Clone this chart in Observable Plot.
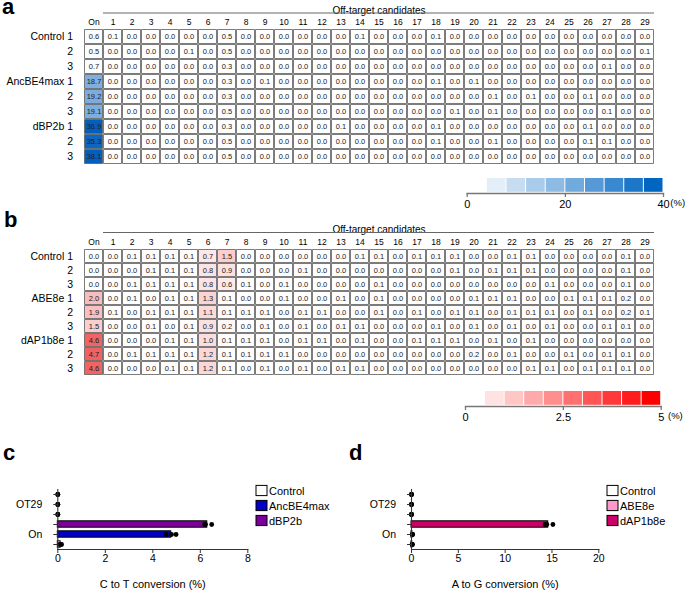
<!DOCTYPE html>
<html><head><meta charset="utf-8">
<script src="https://cdn.jsdelivr.net/npm/d3@7"></script>
<script src="https://cdn.jsdelivr.net/npm/@observablehq/plot@0.6"></script>
<style>
body{margin:0;background:#fff;font-family:"Liberation Sans",Arial,sans-serif;}
#root{position:relative;width:685px;height:596px;overflow:hidden;background:#fff;}
#root > *{position:absolute;}
.plab{font-weight:bold;font-size:22px;line-height:1;color:#000;}
</style></head><body><div id="root"></div>
<script>
// ---------- DATA ----------
const columns = ["On","1","2","3","4","5","6","7","8","9","10","11","12","13","14","15","16","17","18","19","20","21","22","23","24","25","26","27","28","29"];
const offTargetTitle = "Off-target candidates";

// panel a (C to T, %)
const aRowLabels = ["Control 1","2","3","AncBE4max 1","2","3","dBP2b 1","2","3"];
const aControl1   = [0.6,0.1,0.0,0.0,0.0,0.0,0.0,0.5,0.0,0.0,0.0,0.0,0.0,0.0,0.1,0.0,0.0,0.0,0.1,0.0,0.0,0.0,0.0,0.0,0.0,0.0,0.0,0.0,0.0,0.0];
const aControl2   = [0.5,0.0,0.0,0.0,0.0,0.1,0.0,0.5,0.0,0.0,0.0,0.0,0.0,0.0,0.0,0.0,0.0,0.0,0.0,0.0,0.0,0.0,0.0,0.0,0.0,0.0,0.0,0.0,0.0,0.1];
const aControl3   = [0.7,0.0,0.0,0.0,0.0,0.0,0.0,0.3,0.0,0.0,0.0,0.0,0.0,0.0,0.0,0.0,0.0,0.0,0.0,0.0,0.0,0.0,0.0,0.0,0.0,0.0,0.0,0.1,0.0,0.0];
const aAncBE4max1 = [18.7,0.0,0.0,0.0,0.0,0.0,0.0,0.3,0.0,0.1,0.0,0.0,0.0,0.0,0.0,0.0,0.0,0.0,0.1,0.0,0.1,0.0,0.0,0.0,0.0,0.0,0.0,0.0,0.0,0.0];
const aAncBE4max2 = [19.2,0.0,0.0,0.0,0.0,0.0,0.0,0.3,0.0,0.0,0.0,0.0,0.0,0.0,0.0,0.0,0.0,0.0,0.0,0.0,0.0,0.1,0.0,0.1,0.0,0.0,0.1,0.0,0.0,0.0];
const aAncBE4max3 = [19.1,0.0,0.0,0.0,0.0,0.0,0.0,0.5,0.0,0.0,0.0,0.0,0.0,0.0,0.0,0.0,0.0,0.0,0.0,0.1,0.0,0.1,0.0,0.0,0.0,0.0,0.0,0.1,0.0,0.0];
const aDBP2b1     = [36.9,0.0,0.0,0.0,0.0,0.0,0.0,0.3,0.0,0.0,0.0,0.0,0.0,0.1,0.0,0.0,0.0,0.0,0.1,0.0,0.0,0.0,0.0,0.0,0.0,0.0,0.1,0.0,0.0,0.0];
const aDBP2b2     = [35.3,0.0,0.0,0.0,0.0,0.0,0.0,0.5,0.0,0.0,0.0,0.0,0.0,0.0,0.0,0.0,0.0,0.0,0.1,0.0,0.0,0.1,0.0,0.0,0.0,0.0,0.1,0.1,0.0,0.0];
const aDBP2b3     = [38.1,0.0,0.0,0.0,0.0,0.0,0.0,0.5,0.0,0.0,0.0,0.0,0.0,0.0,0.0,0.0,0.0,0.0,0.0,0.0,0.0,0.0,0.0,0.0,0.0,0.0,0.0,0.0,0.0,0.0];

// panel b (A to G, %)
const bRowLabels = ["Control 1","2","3","ABE8e 1","2","3","dAP1b8e 1","2","3"];
const bControl1 = [0.0,0.0,0.1,0.1,0.1,0.1,0.7,1.5,0.0,0.0,0.0,0.0,0.0,0.0,0.1,0.1,0.0,0.1,0.1,0.1,0.0,0.0,0.1,0.1,0.0,0.0,0.0,0.0,0.1,0.0];
const bControl2 = [0.0,0.0,0.0,0.1,0.1,0.1,0.8,0.9,0.0,0.0,0.0,0.1,0.0,0.0,0.0,0.0,0.0,0.0,0.0,0.1,0.0,0.1,0.1,0.1,0.0,0.0,0.0,0.0,0.1,0.0];
const bControl3 = [0.0,0.0,0.1,0.1,0.1,0.1,0.8,0.6,0.1,0.0,0.1,0.0,0.0,0.0,0.0,0.1,0.0,0.0,0.0,0.0,0.0,0.0,0.0,0.0,0.1,0.0,0.0,0.0,0.1,0.0];
const bABE8e1   = [2.0,0.0,0.1,0.0,0.1,0.1,1.3,0.1,0.0,0.0,0.1,0.0,0.0,0.1,0.0,0.1,0.0,0.0,0.0,0.0,0.1,0.1,0.1,0.0,0.0,0.1,0.1,0.1,0.2,0.0];
const bABE8e2   = [1.9,0.1,0.0,0.1,0.1,0.1,1.1,0.1,0.1,0.1,0.0,0.1,0.1,0.0,0.0,0.1,0.0,0.1,0.0,0.1,0.1,0.0,0.1,0.1,0.1,0.0,0.1,0.0,0.2,0.1];
const bABE8e3   = [1.5,0.0,0.0,0.1,0.0,0.1,0.9,0.2,0.0,0.1,0.0,0.1,0.0,0.1,0.1,0.0,0.0,0.0,0.1,0.0,0.1,0.0,0.1,0.0,0.1,0.0,0.0,0.1,0.1,0.0];
const bDAP1b8e1 = [4.6,0.0,0.0,0.0,0.1,0.1,1.0,0.1,0.1,0.1,0.0,0.1,0.1,0.0,0.1,0.0,0.0,0.1,0.1,0.1,0.0,0.1,0.0,0.1,0.0,0.0,0.0,0.0,0.0,0.0];
const bDAP1b8e2 = [4.7,0.0,0.1,0.1,0.1,0.1,1.2,0.1,0.1,0.1,0.1,0.0,0.0,0.0,0.0,0.0,0.0,0.0,0.0,0.0,0.2,0.0,0.1,0.0,0.0,0.1,0.0,0.1,0.1,0.0];
const bDAP1b8e3 = [4.6,0.0,0.0,0.0,0.1,0.1,1.2,0.1,0.0,0.1,0.0,0.1,0.0,0.1,0.1,0.0,0.0,0.0,0.0,0.0,0.0,0.0,0.0,0.1,0.1,0.0,0.1,0.1,0.1,0.0];

// colour legends
const legendAEdges = [4,8,12,16,20,24,28,32,36,40];
const legendAFills = [4.4,8.9,13.3,17.8,22.2,26.7,31.1,35.6,40];
const legendATicks = [0,20,40];
const legendBEdges = [0.5,1,1.5,2,2.5,3,3.5,4,4.5,5];
const legendBFills = [0.56,1.11,1.67,2.22,2.78,3.33,3.89,4.44,5];
const legendBTicks = [0,2.5,5];

// panel c
const cGroups = ["Control","AncBE4max","dBP2b"];
const cColors = ["#ffffff","#0000c8","#7b0099"];
const cSites = ["OT29","On"];
const cOT29Control = [0,0,0];
const cOT29AncBE4max = [0,0,0];
const cOT29DBP2b = [0,0,0];
const cOnControl = [0.08,0.12,0.16];
const cOnAncBE4max = [4.56,4.79,4.98];
const cOnDBP2b = [6.18,6.22,6.48];
const cTicks = [0,2,4,6,8];
const cLabel = "C to T conversion (%)";

// panel d
const dGroups = ["Control","ABE8e","dAP1b8e"];
const dColors = ["#ffffff","#ff99cc","#cc0066"];
const dSites = ["OT29","On"];
const dOT29Control = [0,0,0];
const dOT29ABE8e = [0,0,0];
const dOT29DAP1b8e = [0,0,0];
const dOnControl = [0.06,0.08,0.1];
const dOnABE8e = [0.08,0.1,0.12];
const dOnDAP1b8e = [14.25,14.45,15.1];
const dTicks = [0,5,10,15,20];
const dLabel = "A to G conversion (%)";

// ---------- DRAWING ----------
const FONT = "'Liberation Sans', Arial, Helvetica, sans-serif";
const root = document.getElementById("root");
function place(el, left, top) { el.style.left = left + "px"; el.style.top = top + "px"; root.appendChild(el); }

function heatmap(rows, labels, color, max, height, mt, mb) {
  const data = [];
  rows.forEach((vals, i) => vals.forEach((v, j) => data.push({r: i, c: columns[j], v})));
  const p = Plot.plot({
    width: 685, height, marginLeft: 75, marginRight: 22, marginTop: mt, marginBottom: mb,
    style: {fontFamily: FONT, fontSize: "10px", background: "transparent", overflow: "visible"},
    x: {domain: columns, padding: 0},
    y: {domain: d3.range(rows.length), padding: 0},
    color: {type: "linear", domain: [0, max], range: ["#ffffff", color], clamp: true},
    marks: [
      Plot.cell(data, {x: "c", y: "r", fill: "v", stroke: "#5c5c5c", strokeWidth: 0.8, inset: 0.6}),
      Plot.text(data, {x: "c", y: "r", text: d => d.v.toFixed(1), fontSize: 7.5, fill: "#222"}),
      Plot.axisX({anchor: "top", tickSize: 0, tickPadding: 4, fontSize: 8.5, label: null}),
      Plot.axisY({anchor: "left", tickSize: 0, tickPadding: 2.5, fontSize: 10.5, label: null, tickFormat: i => labels[i]}),
      Plot.text([offTargetTitle], {x: () => "15", frameAnchor: "top", dy: -22.5, fontSize: 10})
    ]
  });
  const xs = p.scale("x");
  d3.select(p).append("line")
    .attr("x1", xs.apply("1")).attr("x2", xs.apply("29") + xs.bandwidth)
    .attr("y1", mt - 15.5).attr("y2", mt - 15.5)
    .attr("stroke", "#666").attr("stroke-width", 1.2);
  return p;
}

function colorLegend(edges, fills, ticks, max, color, ml, mr) {
  const sw = fills.map((f, i) => ({x1: edges[i], x2: edges[i + 1], f}));
  return Plot.plot({
    width: 685, height: 45, marginLeft: ml, marginRight: mr, marginTop: 8, marginBottom: 22,
    style: {fontFamily: FONT, fontSize: "11px", background: "transparent", overflow: "visible"},
    x: {domain: [0, max]},
    y: {domain: [0, 1], axis: null},
    color: {type: "linear", domain: [0, max], range: ["#ffffff", color]},
    marks: [
      Plot.rect(sw, {x1: "x1", x2: "x2", y1: 0, y2: 1, fill: "f", insetLeft: 0.5, insetRight: 0.5, insetBottom: 1.2}),
      Plot.frame({anchor: "bottom", stroke: "#777", strokeWidth: 1.3}),
      Plot.axisX({ticks, tickSize: 4, tickPadding: 2.5, fontSize: 11, stroke: "#777", strokeWidth: 1.3, label: null, tickFormat: d => String(d)}),
      Plot.text(["(%)"], {x: () => max, frameAnchor: "bottom", dy: 12, dx: 6.8, textAnchor: "start", fontSize: 9.5})
    ]
  });
}

function barPanel(sites, groups, colors, reps, ticks, max, label, width, ml, mr) {
  const keys = [];
  sites.forEach(s => [...groups].reverse().forEach(g => keys.push(s + "|" + g)));
  const bars = [], dots = [];
  sites.forEach(s => groups.forEach(g => {
    const vals = reps[s][g];
    bars.push({key: s + "|" + g, g, mean: d3.mean(vals)});
    vals.forEach(v => dots.push({key: s + "|" + g, v}));
  }));
  const mid = groups[1];
  return Plot.plot({
    width, height: 156, marginLeft: ml, marginRight: mr, marginTop: 49, marginBottom: 47,
    style: {fontFamily: FONT, fontSize: "10.5px", background: "transparent", overflow: "visible"},
    x: {domain: [0, max]},
    y: {domain: keys, padding: 0},
    color: {domain: groups, range: colors},
    marks: [
      Plot.barX(bars.filter(d => d.mean > 0), {x: "mean", y: "key", fill: "g", stroke: "#000", strokeWidth: 1, insetTop: 1.8, insetBottom: 1.8}),
      Plot.dot(dots, {x: "v", y: "key", r: 2.4, fill: "#000"}),
      Plot.frame({anchor: "left", stroke: "#333", strokeWidth: 1.1}),
      Plot.frame({anchor: "bottom", stroke: "#333", strokeWidth: 1.1}),
      Plot.axisX({ticks, tickSize: 4, tickPadding: 1.5, fontSize: 10.5, stroke: "#333", label: null}),
      Plot.axisY({tickSize: 4, tickPadding: 11.5, fontSize: 10.5, stroke: "#333", label: null,
        tickFormat: k => k === "OT29|" + mid ? "OT29" : k === "On|" + mid ? "On" : ""}),
      Plot.text([label], {frameAnchor: "bottom", dy: 38.5, fontSize: 11})
    ]
  });
}

function swatchLegend(groups, colors, width) {
  return Plot.plot({
    width, height: 50, marginLeft: 6, marginRight: width - 17, marginTop: 1.6, marginBottom: 1,
    style: {fontFamily: FONT, fontSize: "11px", background: "transparent", overflow: "visible"},
    x: {domain: ["s"], padding: 0, axis: null},
    y: {domain: groups, padding: 0, axis: null},
    color: {domain: groups, range: colors},
    marks: [
      Plot.cell(groups, {x: () => "s", y: d => d, fill: d => d, stroke: "#000", strokeWidth: 1, insetTop: 2.4, insetBottom: 2.4}),
      Plot.text(groups, {x: () => "s", y: d => d, text: d => d, textAnchor: "start", dx: 7, fontSize: 11, fill: "#000"})
    ]
  });
}

// panel a
place(heatmap([aControl1, aControl2, aControl3, aAncBE4max1, aAncBE4max2, aAncBE4max3, aDBP2b1, aDBP2b2, aDBP2b3],
  aRowLabels, "#0060bd", 37, 175, 28.5, 11), 0, 0);
place(colorLegend(legendAEdges, legendAFills, legendATicks, 40, "#0066c2", 466.7, 22), 0, 170);

// panel b
place(heatmap([bControl1, bControl2, bControl3, bABE8e1, bABE8e2, bABE8e3, bDAP1b8e1, bDAP1b8e2, bDAP1b8e3],
  bRowLabels, "#ee3535", 6, 180, 43, 10), 0, 205);
place(colorLegend(legendBEdges, legendBFills, legendBTicks, 5, "#ff0000", 465, 24.3), 0, 382.5);

// panel c
place(barPanel(cSites, cGroups, cColors,
  {OT29: {Control: cOT29Control, AncBE4max: cOT29AncBE4max, dBP2b: cOT29DBP2b},
   On: {Control: cOnControl, AncBE4max: cOnAncBE4max, dBP2b: cOnDBP2b}},
  cTicks, 8, cLabel, 345, 57.3, 97.7), 0, 440);
place(swatchLegend(cGroups, cColors, 95), 250, 480);

// panel d
place(barPanel(dSites, dGroups, dColors,
  {OT29: {Control: dOT29Control, ABE8e: dOT29ABE8e, dAP1b8e: dOT29DAP1b8e},
   On: {Control: dOnControl, ABE8e: dOnABE8e, dAP1b8e: dOnDAP1b8e}},
  dTicks, 20, dLabel, 340, 66, 86.7), 345, 440);
place(swatchLegend(dGroups, dColors, 84), 601.3, 480);

// panel letters
[["a", 2, -3.6], ["b", 4, 209.4], ["c", 3, 442.4], ["d", 349, 442.4]].forEach(([t, x, y]) => {
  const el = document.createElement("div"); el.className = "plab"; el.textContent = t; place(el, x, y);
});
</script></body></html>
